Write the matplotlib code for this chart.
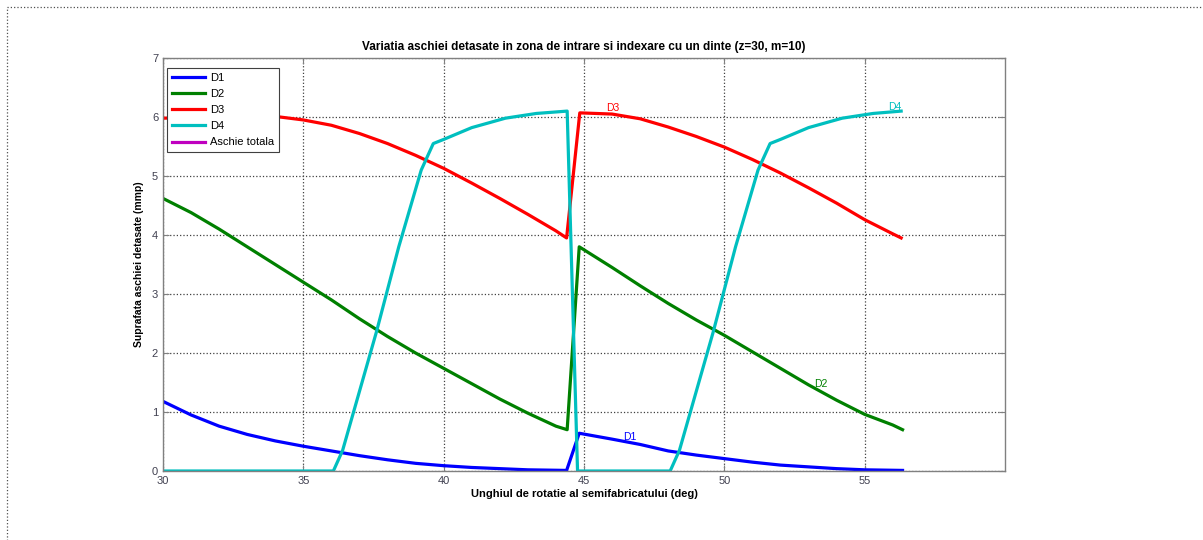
import matplotlib
matplotlib.use("Agg")
import matplotlib.pyplot as plt
from matplotlib.patches import Rectangle

# Unghiul de rotatie (deg) si suprafata aschiei (mmp) pentru fiecare dinte
d1_x = [30, 31, 32, 33, 34, 35, 36, 37, 38, 39, 40, 41, 42, 43, 44.38,
        44.83, 46, 47, 48, 49, 50, 51, 52, 53, 54, 55, 56.35]
d1_y = [1.18, 0.95, 0.76, 0.62, 0.51, 0.42, 0.34, 0.26, 0.19, 0.13, 0.09, 0.06, 0.04, 0.02, 0.01,
        0.64, 0.54, 0.45, 0.34, 0.27, 0.21, 0.15, 0.10, 0.07, 0.04, 0.02, 0.01]

d2_x = [30, 31, 32, 33, 34, 35, 36, 37, 38, 39, 40, 41, 42, 43, 44, 44.4,
        44.83, 46, 47, 48, 49, 50, 51, 52, 53, 54, 55, 56, 56.35]
d2_y = [4.62, 4.38, 4.10, 3.80, 3.50, 3.20, 2.90, 2.58, 2.28, 2.00, 1.74, 1.48, 1.22, 0.98, 0.76, 0.70,
        3.80, 3.45, 3.14, 2.84, 2.56, 2.30, 2.02, 1.74, 1.46, 1.20, 0.96, 0.78, 0.70]

d3_x = [30, 31, 32, 33, 34, 35, 36, 37, 38, 39, 40, 41, 42, 43, 44, 44.38,
        44.85, 46, 47, 48, 49, 50, 51, 52, 53, 54, 55, 56, 56.3]
d3_y = [5.98, 5.99, 6.01, 6.04, 6.01, 5.95, 5.86, 5.72, 5.55, 5.35, 5.13, 4.88, 4.62, 4.35, 4.07, 3.95,
        6.07, 6.05, 5.97, 5.83, 5.67, 5.49, 5.28, 5.05, 4.80, 4.54, 4.26, 4.02, 3.95]

d4_x = [30, 36.07, 36.4, 37.0, 37.6, 38.4, 39.2, 39.63, 40.0, 41.0, 42.2, 43.3, 44.4,
        44.77, 48.07, 48.4, 49.0, 49.6, 50.4, 51.2, 51.63, 52.0, 53.0, 54.2, 55.3, 56.3]
d4_y = [0, 0, 0.35, 1.35, 2.35, 3.80, 5.10, 5.55, 5.62, 5.82, 5.98, 6.06, 6.10,
        0, 0, 0.35, 1.35, 2.35, 3.80, 5.10, 5.55, 5.62, 5.82, 5.98, 6.06, 6.10]

# Etichete text langa curbe
label_names = ["D3", "D1", "D2", "D4"]
label_x = [45.8, 46.4, 53.2, 55.85]
label_y = [6.15, 0.58, 1.47, 6.17]

x_ticks = [30, 35, 40, 45, 50, 55]
y_ticks = [0, 1, 2, 3, 4, 5, 6, 7]

col_d1 = '#0000ff'
col_d2 = '#008000'
col_d3 = '#ff0000'
col_d4 = '#00bfbf'
col_tot = '#bf00bf'

plt.rcParams['font.family'] = ['Liberation Sans', 'DejaVu Sans']

fig = plt.figure(figsize=(12.03, 5.4), dpi=100)
ax = fig.add_axes([163/1203, 1 - 471/540, (1005 - 163)/1203, (471 - 58)/540])

lw = 2.3
ax.plot(d1_x, d1_y, color=col_d1, linewidth=lw, label='D1')
ax.plot(d2_x, d2_y, color=col_d2, linewidth=lw, label='D2')
ax.plot(d3_x, d3_y, color=col_d3, linewidth=lw, label='D3')
ax.plot(d4_x, d4_y, color=col_d4, linewidth=lw, label='D4')
# aschia totala apare doar in legenda
ax.plot([], [], color=col_tot, linewidth=lw, label='Aschie totala')

for name, tx, ty, c in zip(label_names, label_x, label_y, [col_d3, col_d1, col_d2, col_d4]):
    ax.text(tx, ty, name, color=c, fontsize=7.5, va='center', ha='left')

ax.set_xlim(30, 60)
ax.set_ylim(0, 7)
ax.set_xticks(x_ticks)
ax.set_yticks(y_ticks)
ax.grid(True, linestyle=':', color='#404040', linewidth=0.9)
ax.tick_params(direction='in', labelsize=8, labelcolor='#404050', color='#808080',
               top=True, right=True, length=4)
for sp in ax.spines.values():
    sp.set_color('#808080')
    sp.set_linewidth(1.0)

ax.set_title('Variatia aschiei detasate in zona de intrare si indexare cu un dinte (z=30, m=10)',
             fontsize=8.5, fontweight='bold', pad=6)
ax.set_xlabel('Unghiul de rotatie al semifabricatului (deg)', fontsize=8, fontweight='bold', labelpad=2)
ax.set_ylabel('Suprafata aschiei detasate (mmp)', fontsize=7.5, fontweight='bold', labelpad=6)

leg = ax.legend(loc='upper left', bbox_to_anchor=(4/842, 1 - 10/413), borderaxespad=0,
                fontsize=8, fancybox=False, framealpha=1, edgecolor='#404040',
                handlelength=3.0, labelspacing=0.55, handletextpad=0.4, borderpad=0.45)
leg.get_frame().set_linewidth(0.8)

# chenar punctat in jurul figurii
fig.patches.append(Rectangle((7/1203, -0.05), 1.1, 1 - 7/540 + 0.05, transform=fig.transFigure,
                             fill=False, linestyle=':', linewidth=0.9, edgecolor='#505050'))

plt.savefig('out.png', dpi=100)
